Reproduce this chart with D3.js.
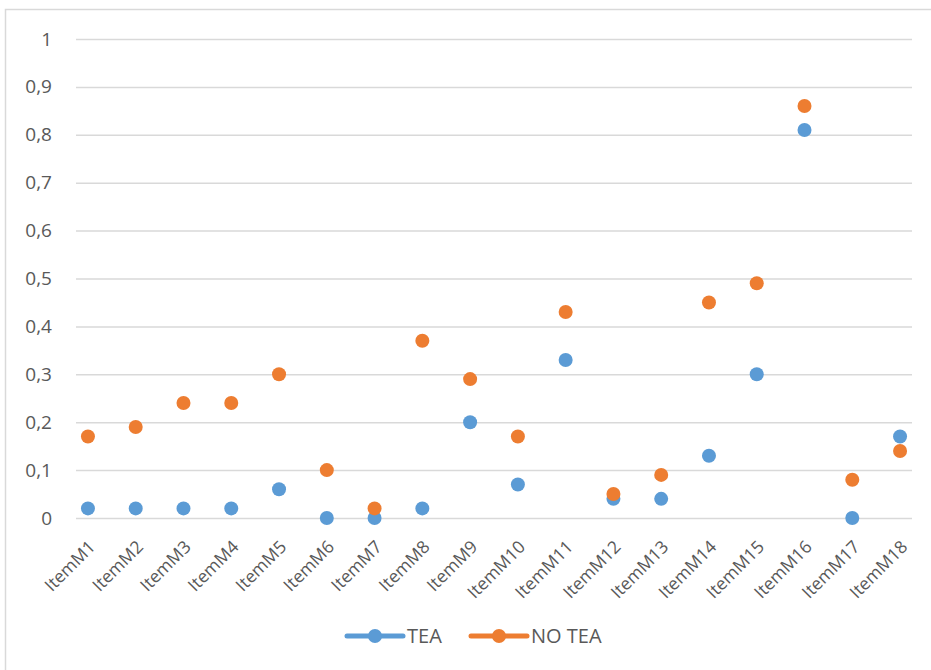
<!DOCTYPE html>
<html>
<head>
<meta charset="utf-8">
<script src="https://cdn.jsdelivr.net/npm/d3@7"></script>
<style>
  body { margin: 0; background: #fff; }
  text { font-family: "Open Sans", sans-serif; fill: #595959; }
</style>
</head>
<body>
<div id="chart"></div>
<script>
let width = 931;
let height = 670;

// data
let items = ["ItemM1","ItemM2","ItemM3","ItemM4","ItemM5","ItemM6","ItemM7","ItemM8","ItemM9",
             "ItemM10","ItemM11","ItemM12","ItemM13","ItemM14","ItemM15","ItemM16","ItemM17","ItemM18"];
let teaValues   = [0.02,0.02,0.02,0.02,0.06,0,0,0.02,0.20,0.07,0.33,0.04,0.04,0.13,0.30,0.81,0,0.17];
let noTeaValues = [0.17,0.19,0.24,0.24,0.30,0.10,0.02,0.37,0.29,0.17,0.43,0.05,0.09,0.45,0.49,0.86,0.08,0.14];
let yTicks = [0,0.1,0.2,0.3,0.4,0.5,0.6,0.7,0.8,0.9,1];
let seriesNames = ["TEA", "NO TEA"];
let colors = ["#5B9BD5", "#ED7D31"];

let svg = d3.select("#chart")
  .append("svg")
    .attr("width", width)
    .attr("height", height);

// chart border (right/bottom cropped off)
svg.append("rect")
  .attr("x", 5.5).attr("y", 9.5)
  .attr("width", 940).attr("height", 680)
  .attr("fill", "none")
  .attr("stroke", "#d9d9d9")
  .attr("stroke-width", 1.5);

let plotLeft = 76, plotRight = 912, plotTop = 39, plotBottom = 518;

let xScale = d3.scalePoint().domain(items).range([plotLeft, plotRight]).padding(0.25);
let yScale = d3.scaleLinear().domain([0, 1]).range([plotBottom, plotTop]);

let fmt = d => d3.format("~g")(d).replace(".", ",");

// y axis with gridlines
let yAxis = d3.axisLeft(yScale)
  .tickValues(yTicks)
  .tickSize(-(plotRight - plotLeft))
  .tickPadding(24)
  .tickFormat(fmt);

let yAxisGroup = svg.append("g")
  .attr("transform", "translate(" + plotLeft + ",0)")
  .call(yAxis);
yAxisGroup.select(".domain").remove();
yAxisGroup.selectAll("line").attr("stroke", "#d9d9d9").attr("stroke-width", 1.5);
yAxisGroup.selectAll("text")
  .style("font-size", "19px")
  .attr("fill", "#595959");

// x axis labels
let xAxis = d3.axisBottom(xScale).tickSize(0).tickPadding(0);
let xAxisGroup = svg.append("g")
  .attr("transform", "translate(0," + plotBottom + ")")
  .call(xAxis);
xAxisGroup.select(".domain").remove();
xAxisGroup.selectAll("text")
  .style("font-size", "17.5px")
  .attr("fill", "#595959")
  .attr("text-anchor", "end")
  .attr("dy", null)
  .attr("y", 0)
  .attr("transform", "translate(8,30) rotate(-45)");

// points
let series = [teaValues, noTeaValues];
series.forEach(function(vals, s){
  svg.append("g").selectAll("circle")
    .data(vals)
    .enter()
    .append("circle")
      .attr("cx", (d, i) => xScale(items[i]))
      .attr("cy", d => yScale(d))
      .attr("r", 7)
      .attr("fill", colors[s]);
});

// legend
let legendX = [347, 471];
let legend = svg.selectAll(".legend").data(seriesNames).enter()
  .append("g")
    .attr("class", "legend")
    .attr("transform", (d, i) => "translate(" + legendX[i] + ",636)");
legend.append("line")
  .attr("x1", 0).attr("x2", 56)
  .attr("y1", 0).attr("y2", 0)
  .attr("stroke", (d, i) => colors[i])
  .attr("stroke-width", 5)
  .attr("stroke-linecap", "round");
legend.append("circle")
  .attr("cx", 28).attr("cy", 0).attr("r", 7)
  .attr("fill", (d, i) => colors[i]);
legend.append("text")
  .attr("x", 60).attr("y", 0)
  .attr("dy", "0.35em")
  .style("font-size", "20px")
  .text(d => d);
</script>
</body>
</html>
